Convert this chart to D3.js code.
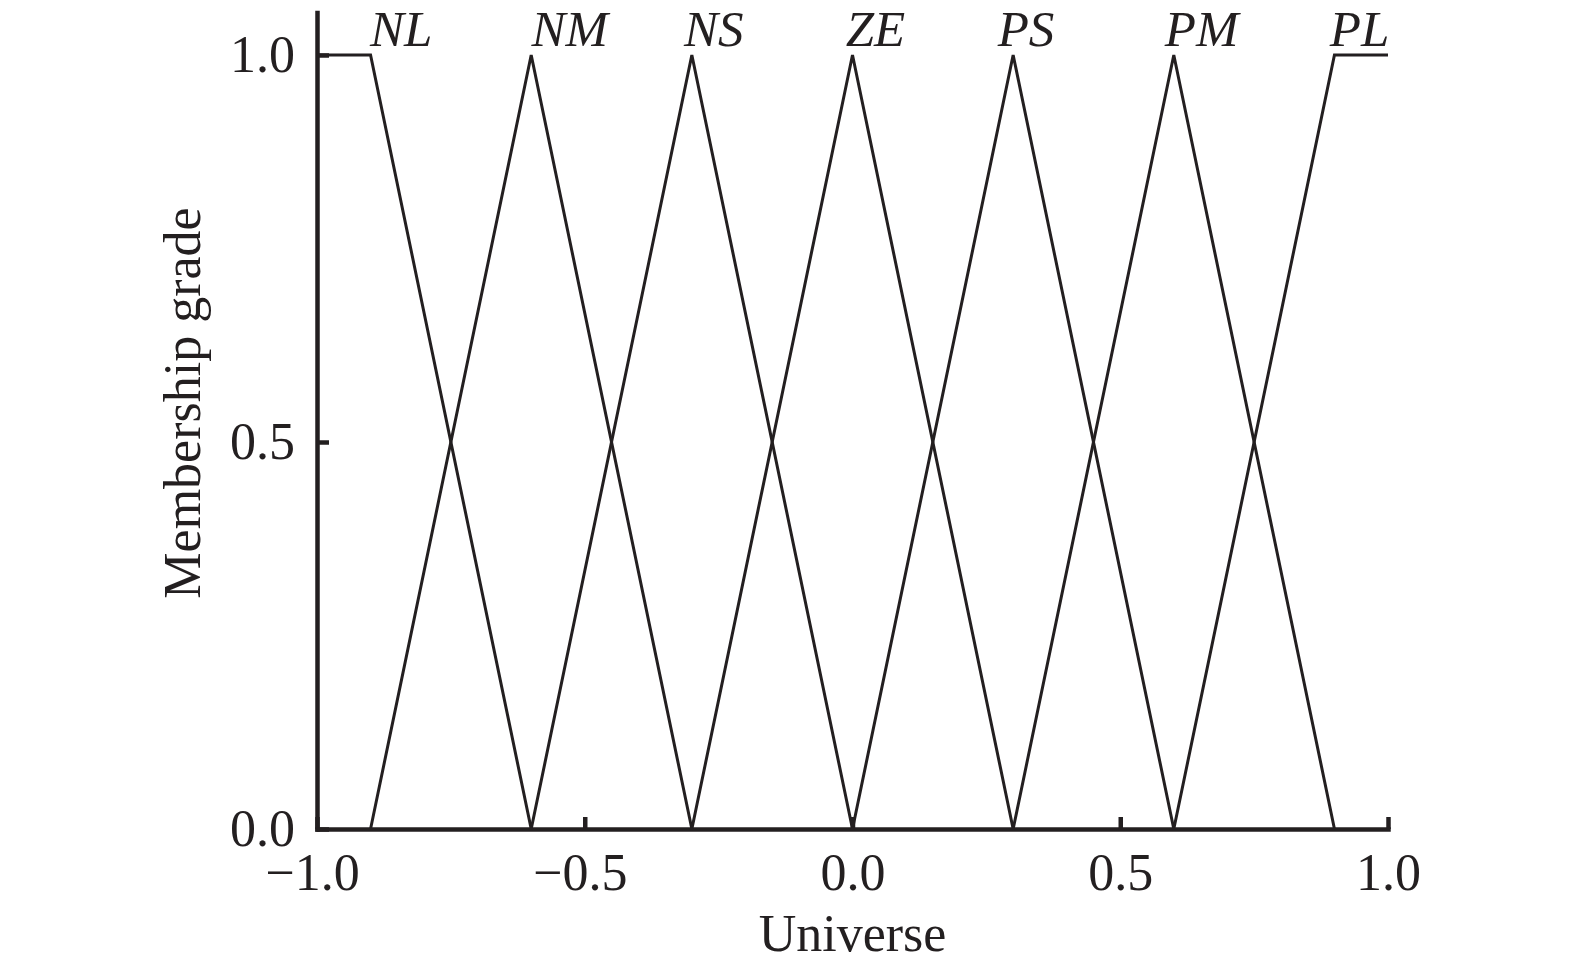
<!DOCTYPE html>
<html>
<head>
<meta charset="utf-8">
<script src="https://cdn.jsdelivr.net/npm/d3@7"></script>
<style>
  html, body { margin: 0; padding: 0; background: #ffffff; }
  svg { display: block; }
  text { font-family: "Liberation Serif", "Times New Roman", serif; fill: #231f20; }
</style>
</head>
<body>
<svg id="chart" width="1575" height="969"></svg>
<script>
// ---- data ----
const setNames = ["NL", "NM", "NS", "ZE", "PS", "PM", "PL"];
const setBreakX = [
  [-1.0, -0.9, -0.6],
  [-0.9, -0.6, -0.3],
  [-0.6, -0.3, 0.0],
  [-0.3, 0.0, 0.3],
  [0.0, 0.3, 0.6],
  [0.3, 0.6, 0.9],
  [0.6, 0.9, 1.0]
];
const setBreakY = [
  [1, 1, 0],
  [0, 1, 0],
  [0, 1, 0],
  [0, 1, 0],
  [0, 1, 0],
  [0, 1, 0],
  [0, 1, 1]
];
const labelX = [-0.843, -0.528, -0.259, 0.043, 0.324, 0.652, 0.947];
const labelY = 1.012;
const xTicks = [-1.0, -0.5, 0.0, 0.5, 1.0];
const yTicks = [0.0, 0.5, 1.0];
const xTitle = "Universe";
const yTitle = "Membership grade";

// ---- layout ----
const ink = "#231f20";
const svg = d3.select("#chart");
const x = d3.scaleLinear().domain([-1, 1]).range([317, 1388]);
const y = d3.scaleLinear().domain([0, 1]).range([829, 55]);
const yTop = 1.055;
const fmt = d => (d < 0 ? "\u2212" : "") + Math.abs(d).toFixed(1);

// membership functions
const line = d3.line().x(d => x(d[0])).y(d => y(d[1]));
setNames.forEach((name, i) => {
  const pts = setBreakX[i].map((v, j) => [v, setBreakY[i][j]]);
  svg.append("path")
    .attr("d", line(pts))
    .attr("fill", "none")
    .attr("stroke", ink)
    .attr("stroke-width", 3)
    .attr("stroke-linejoin", "miter");
  svg.append("text")
    .attr("x", x(labelX[i]))
    .attr("y", y(labelY))
    .attr("text-anchor", "middle")
    .attr("font-size", 51)
    .attr("font-style", "italic")
    .text(name);
});

// x axis
const gx = svg.append("g").attr("transform", `translate(0,${y(0)})`)
  .call(d3.axisBottom(x).tickValues(xTicks).tickFormat(fmt).tickSizeInner(-12).tickSizeOuter(0).tickPadding(24));
gx.select(".domain").attr("stroke", ink).attr("stroke-width", 4.5).attr("stroke-linecap", "square");
gx.selectAll(".tick line").attr("stroke", ink).attr("stroke-width", 4.5);
gx.selectAll(".tick text").attr("font-size", 52).attr("font-family", "Liberation Serif, serif").attr("fill", ink)
  .attr("dy", "0.71em").attr("dx", d => d < 0 ? -5 : 0);

// y axis
const y2 = d3.scaleLinear().domain([0, yTop]).range([y(0), y(yTop)]);
const gy = svg.append("g").attr("transform", `translate(${x(-1)},0)`)
  .call(d3.axisLeft(y2).tickValues(yTicks).tickFormat(fmt).tickSizeInner(-12).tickSizeOuter(0).tickPadding(22));
gy.select(".domain").attr("stroke", ink).attr("stroke-width", 4.5).attr("stroke-linecap", "square");
gy.selectAll(".tick line").attr("stroke", ink).attr("stroke-width", 4.5);
gy.selectAll(".tick text").attr("font-size", 52).attr("font-family", "Liberation Serif, serif").attr("fill", ink);

// titles
svg.append("text")
  .attr("x", (x(-1) + x(1)) / 2)
  .attr("y", 951)
  .attr("text-anchor", "middle")
  .attr("font-size", 52)
  .text(xTitle);
svg.append("text")
  .attr("transform", `translate(200,403) rotate(-90)`)
  .attr("text-anchor", "middle")
  .attr("font-size", 52)
  .text(yTitle);
</script>
</body>
</html>
